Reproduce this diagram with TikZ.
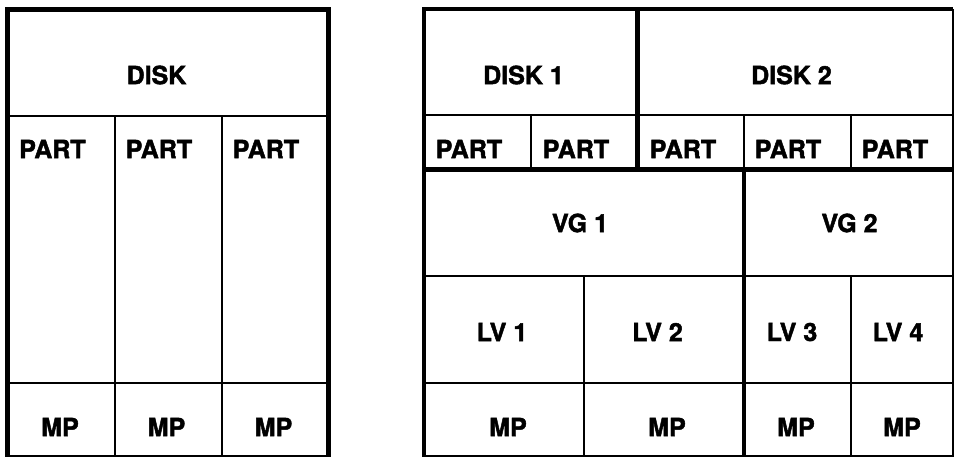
\documentclass[tikz,border=0pt]{standalone}
\usepackage{fontspec}
\setmainfont{TeX Gyre Heros}[BoldFeatures={FakeBold=1.8}]

\tikzset{
  thinline/.style={line width=2pt},
  thickline/.style={line width=4.8pt},
  lbl/.style={inner sep=0pt, font=\fontsize{25}{29}\selectfont\bfseries},
  partlbl/.style={lbl, anchor=west}
}

\begin{document}
\begin{tikzpicture}[x=1pt,y=-1pt]
\useasboundingbox (0,0) rectangle (956,456);
% single disk
\draw [thinline] (7.5,116) -- (328.5,116);
\draw [thinline] (7.5,383) -- (328.5,383);
\draw [thinline] (115,116) -- (115,457);
\draw [thinline] (222,116) -- (222,457);
\draw [thickline] (7.5,9.5) rectangle (328.5,457);
\node[lbl] (disk) at (156.5,75) {DISK};
\node[partlbl] (partA) at (19,149) {PART};
\node[partlbl] (partB) at (125.5,149) {PART};
\node[partlbl] (partC) at (232.5,149) {PART};
\node[lbl] (mpA) at (60,427) {MP};
\node[lbl] (mpB) at (166.5,427) {MP};
\node[lbl] (mpC) at (273.5,427) {MP};
% two disks with lvm
\draw [thinline] (424,115) -- (952.5,115);
\draw [thinline] (531,115) -- (531,169.5);
\draw [thinline] (744,115) -- (744,169.5);
\draw [thinline] (851,115) -- (851,169.5);
\draw [thinline] (424,276) -- (952.5,276);
\draw [thinline] (424,383) -- (952.5,383);
\draw [thinline] (584,276) -- (584,457);
\draw [thinline] (851,276) -- (851,457);
\draw [thinline] (952.5,9) -- (952.5,457);
\draw [thickline] (637.5,9) -- (637.5,169.5);
\draw [thickline] (424,169.5) -- (952.5,169.5);
\draw [thickline] (744,169.5) -- (744,457);
\draw [thickline] (952.5,9) -- (424,9) -- (424,457) -- (952.5,457);
\node[lbl] (diskA) at (523.5,75) {DISK 1};
\node[lbl] (diskB) at (791.5,75) {DISK 2};
\node[partlbl] (partD) at (435.5,149) {PART};
\node[partlbl] (partE) at (542.5,149) {PART};
\node[partlbl] (partF) at (649.5,149) {PART};
\node[partlbl] (partG) at (754.5,149) {PART};
\node[partlbl] (partH) at (861.5,149) {PART};
\node[lbl] (vgA) at (580,223) {VG 1};
\node[lbl] (vgB) at (849.5,223) {VG 2};
\node[lbl] (lvA) at (502,332) {LV 1};
\node[lbl] (lvB) at (657.5,332) {LV 2};
\node[lbl] (lvC) at (792,332) {LV 3};
\node[lbl] (lvD) at (898,332) {LV 4};
\node[lbl] (mpD) at (508,427) {MP};
\node[lbl] (mpE) at (667,427) {MP};
\node[lbl] (mpF) at (796,427) {MP};
\node[lbl] (mpG) at (902,427) {MP};
\end{tikzpicture}
\end{document}
